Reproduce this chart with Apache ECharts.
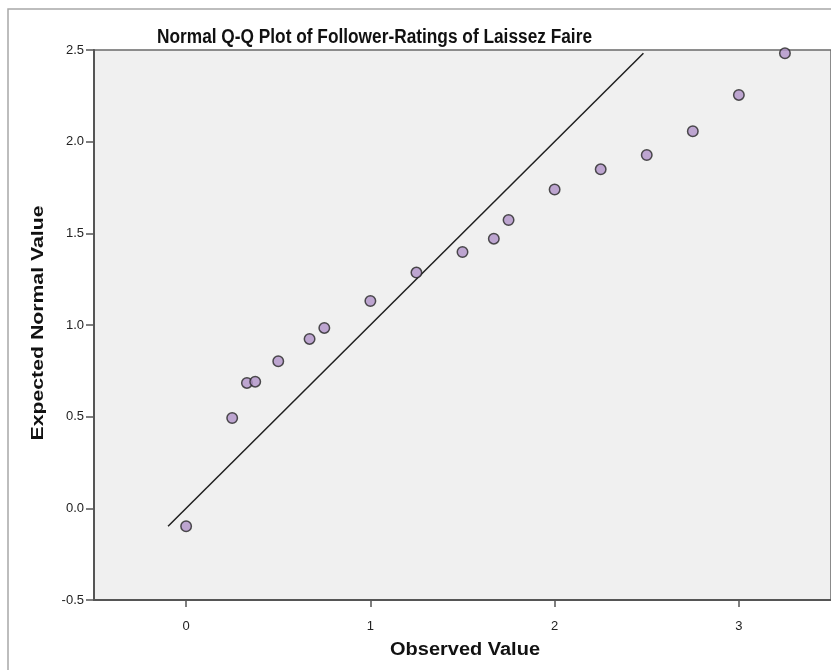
<!DOCTYPE html>
<html>
<head>
<meta charset="utf-8">
<title>Normal Q-Q Plot of Follower-Ratings of Laissez Faire</title>
<script src="https://cdn.jsdelivr.net/npm/echarts@6/dist/echarts.min.js"></script>
<style>
  html, body { margin: 0; padding: 0; background: #ffffff; }
  #chart { width: 831px; height: 670px; }
</style>
</head>
<body>
<div id="chart"></div>
<script>
// Observed ratings and their expected normal values
const observedValues = [0, 0.25, 0.33, 0.375, 0.5, 0.67, 0.75, 1.0, 1.25, 1.5, 1.67, 1.75, 2.0, 2.25, 2.5, 2.75, 3.0, 3.25];
const expectedValues = [-0.098, 0.493, 0.684, 0.691, 0.802, 0.924, 0.984, 1.131, 1.286, 1.398, 1.471, 1.573, 1.739, 1.849, 1.927, 2.057, 2.255, 2.482];

// Reference line y = x over the range of expected values
const refLineEnds = [-0.098, 2.482];

// Tick labels
const xTicks = [0, 1, 2, 3];
const yTicks = [-0.5, 0.0, 0.5, 1.0, 1.5, 2.0, 2.5];

// Text
const chartTitle = 'Normal Q-Q Plot of Follower-Ratings of Laissez Faire';
const xAxisTitle = 'Observed Value';
const yAxisTitle = 'Expected Normal Value';

const points = observedValues.map((x, i) => [x, expectedValues[i]]);
const refLine = refLineEnds.map(v => [v, v]);

const chart = echarts.init(document.getElementById('chart'), null, { renderer: 'canvas' });

const fontFamily = '"Liberation Sans", Arial, sans-serif';
const boldFont = size => 'bold ' + size + 'px ' + fontFamily;

// Measure a string so the headings can be fitted to a given width
const measureCtx = document.createElement('canvas').getContext('2d');
function textWidth(text, font) {
  measureCtx.font = font;
  return measureCtx.measureText(text).width;
}

// Heading drawn at a centre point, fitted along its baseline to a target length
function heading(text, size, cx, cy, length, rotation) {
  const font = boldFont(size);
  return {
    type: 'text',
    x: cx,
    y: cy,
    rotation: rotation || 0,
    scaleX: length / textWidth(text, font),
    silent: true,
    z: 10,
    style: {
      text,
      font,
      fill: '#111',
      align: 'center',
      verticalAlign: 'middle'
    }
  };
}

chart.setOption({
  backgroundColor: '#ffffff',
  animation: false,
  graphic: [
    {
      type: 'rect',
      shape: { x: 8, y: 9, width: 900, height: 700 },
      style: { fill: 'none', stroke: '#a8a8a8', lineWidth: 1.5 },
      silent: true,
      z: -1
    },
    heading(chartTitle, 20, 374.5, 37, 435),
    heading(xAxisTitle, 18, 465, 650, 150),
    heading(yAxisTitle, 17, 38, 323, 235, Math.PI / 2)
  ],
  grid: {
    left: 94,
    top: 50,
    width: 740,
    height: 550,
    show: true,
    backgroundColor: '#f0f0f0',
    borderColor: '#6a6a6a',
    borderWidth: 1.5
  },
  xAxis: {
    type: 'value',
    min: -0.5,
    max: 3.5,
    axisLine: { show: true, onZero: false, lineStyle: { color: '#555', width: 2 } },
    axisTick: { show: true, customValues: xTicks, length: 7, lineStyle: { color: '#555', width: 1.5 } },
    axisLabel: { customValues: xTicks, fontFamily, fontSize: 13, color: '#222', margin: 20 },
    splitLine: { show: false }
  },
  yAxis: {
    type: 'value',
    min: -0.5,
    max: 2.5,
    interval: 0.5,
    axisLine: { show: true, onZero: false, lineStyle: { color: '#555', width: 2 } },
    axisTick: { show: true, length: 8, lineStyle: { color: '#555', width: 1.5 } },
    axisLabel: {
      fontFamily, fontSize: 13, color: '#222', margin: 10,
      formatter: v => v.toFixed(1)
    },
    splitLine: { show: false }
  },
  series: [
    {
      type: 'line',
      data: refLine,
      symbol: 'none',
      lineStyle: { color: '#1e1e1e', width: 1.5 },
      silent: true,
      z: 2
    },
    {
      type: 'scatter',
      data: points,
      symbol: 'circle',
      symbolSize: 10.5,
      itemStyle: { color: '#b092c8', borderColor: '#262626', borderWidth: 1.5 },
      z: 3
    }
  ]
});
</script>
</body>
</html>
